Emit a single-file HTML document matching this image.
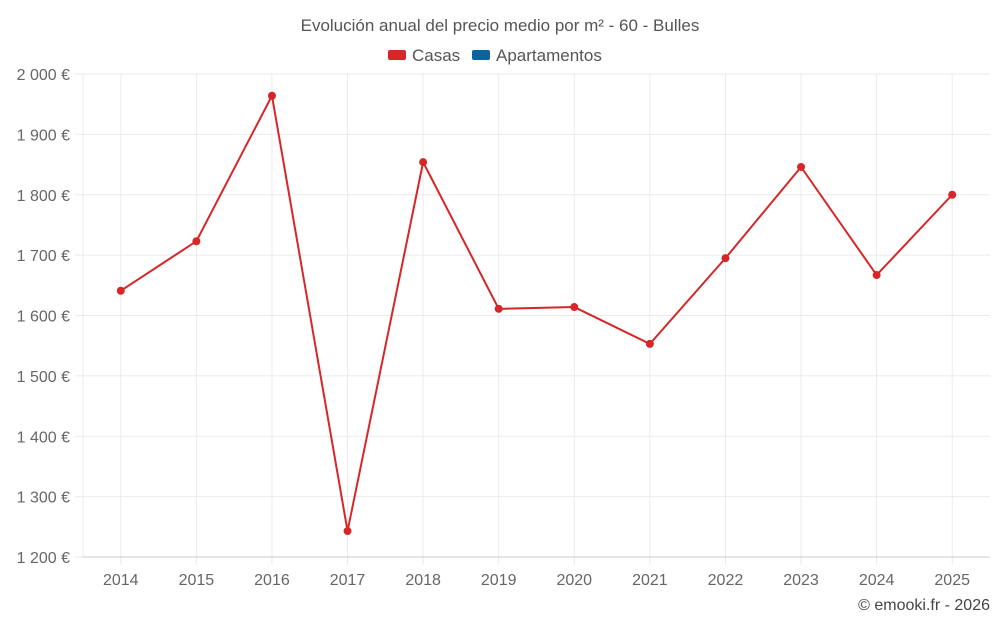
<!DOCTYPE html>
<html><head><meta charset="utf-8">
<style>
body{margin:0;background:#fff;font-family:"Liberation Sans",sans-serif;}
svg text{font-family:"Liberation Sans",sans-serif;}
</style></head>
<body>
<svg id="chart" width="1000" height="625" xmlns="http://www.w3.org/2000/svg">
<text x="500" y="31" text-anchor="middle" font-size="17" fill="#555">Evolución anual del precio medio por m² - 60 - Bulles</text>
<g><rect x="388" y="50" width="18" height="10" rx="2" fill="#d62728"/><text x="412" y="61" font-size="17" fill="#555">Casas</text></g>
<g><rect x="472" y="50" width="18" height="10" rx="2" fill="#0b64a0"/><text x="496" y="61" font-size="17" fill="#555">Apartamentos</text></g>
<g id="grid"></g><g id="axes"></g><g id="series"></g>
<text x="990" y="610" text-anchor="end" font-size="16" fill="#444">© emooki.fr - 2026</text>
</svg>
<script>
const categories=["2014","2015","2016","2017","2018","2019","2020","2021","2022","2023","2024","2025"];
const casas=[1641,1723,1964,1243,1854,1611,1614,1553,1695,1846,1667,1800];
const yTicks=[1200,1300,1400,1500,1600,1700,1800,1900,2000];
const yTickLabels=["1 200 €","1 300 €","1 400 €","1 500 €","1 600 €","1 700 €","1 800 €","1 900 €","2 000 €"];
const L=83,R=990,T=74,B=557,ymin=1200,ymax=2000;
const ns="http://www.w3.org/2000/svg";
const band=(R-L)/categories.length;
const x=i=>L+band*(i+0.5);
const y=v=>B-(v-ymin)/(ymax-ymin)*(B-T);
function mk(t,a,p){const e=document.createElementNS(ns,t);for(const k in a)e.setAttribute(k,a[k]);p.appendChild(e);return e;}
const grid=document.getElementById('grid'),axes=document.getElementById('axes'),ser=document.getElementById('series');
yTicks.forEach((v,i)=>{
 const l=mk('line',{x1:L-8,x2:R,y1:y(v),y2:y(v),stroke:'#ebebeb'},grid);
 
 
 const t=mk('text',{x:70,y:y(v)+6,'text-anchor':'end','font-size':16,fill:'#666'},axes);
 t.textContent=yTickLabels[i];
 
 
});
const la=mk('line',{x1:L,x2:L,y1:T,y2:B,stroke:'#ebebeb'},grid);


categories.forEach((c,i)=>{
 const l=mk('line',{x1:x(i),x2:x(i),y1:T,y2:B+8,stroke:'#ebebeb'},grid);
 
 
 const t=mk('text',{x:x(i),y:585,'text-anchor':'middle','font-size':16,fill:'#666'},axes);
 t.textContent=c;
 
 
});
const ax=mk('line',{x1:L,x2:R,y1:B,y2:B,stroke:'#ccc'},axes);


const pl=mk('polyline',{points:casas.map((v,i)=>x(i)+','+y(v)).join(' '),fill:'none',stroke:'#d62728','stroke-width':2},ser);


casas.forEach((v,i)=>{
 const c=mk('circle',{cx:x(i),cy:y(v),r:4,fill:'#d62728'},ser);
 
 
});
</script>
</body></html>
